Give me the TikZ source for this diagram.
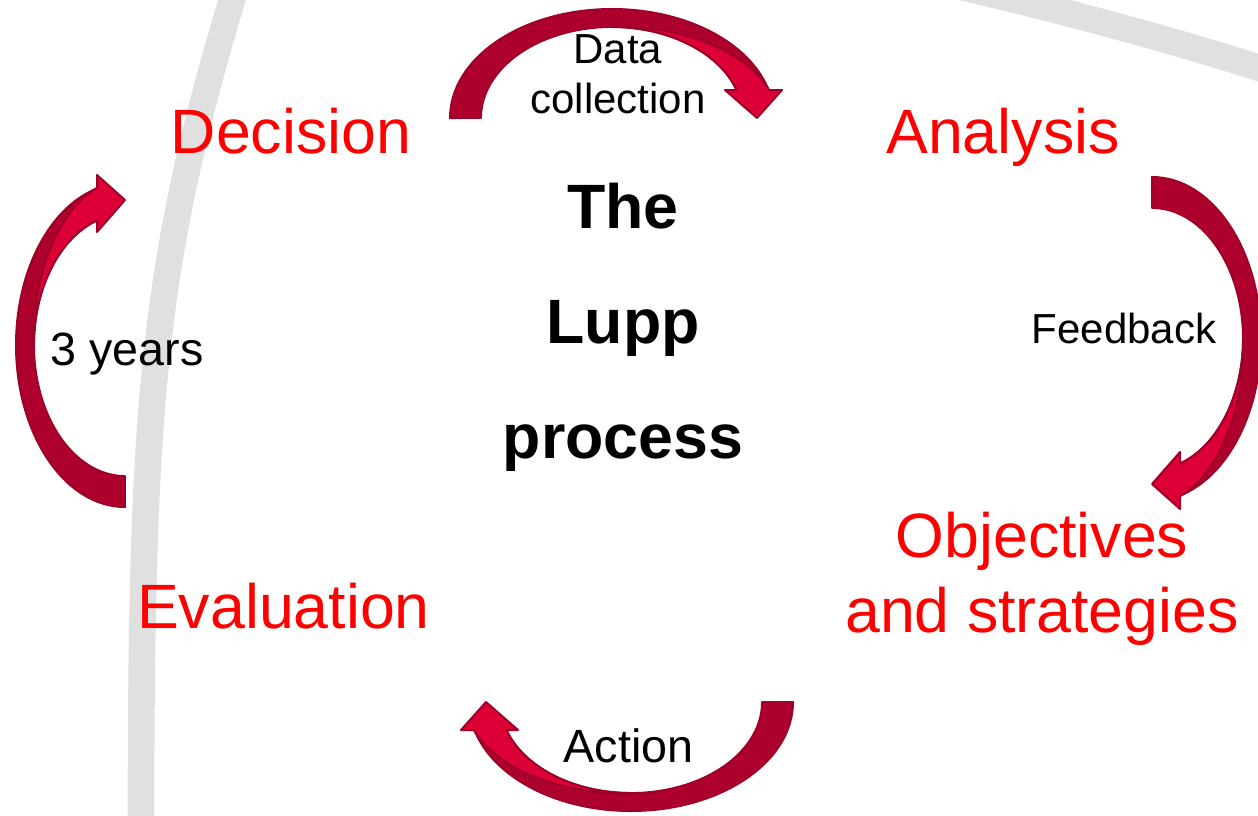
\documentclass[tikz,border=0pt]{standalone}
\usepackage{fontspec}
\setmainfont{Liberation Sans}
\definecolor{ringgray}{HTML}{E0E0E0}
\definecolor{stagered}{HTML}{FF0000}
\definecolor{arrowdark}{HTML}{AE002D}
\definecolor{arrowlight}{HTML}{DC0037}
\definecolor{arrowline}{HTML}{9E0027}
\tikzset{
  ring/.style={draw=ringgray, line width=20pt},
  stage/.style={text=stagered, font=\fontsize{47}{56.25}\selectfont, align=center, inner sep=0pt, anchor=base},
  title/.style={font=\bfseries\fontsize{47}{86}\selectfont, align=center, inner sep=0pt, anchor=base},
  flow/.style={font=\fontsize{31.5}{37.5}\selectfont, align=center, inner sep=0pt, anchor=base},
  backband/.style={fill=arrowdark, draw=arrowline, line width=1.5pt, line join=round},
  frontband/.style={fill=arrowlight, draw=arrowline, line width=1.5pt, line join=round},
  pics/curvedarrow/.style={code={
    %back of the ribbon
    \path[backband] (-162,0) arc[start angle=180, end angle=14.9, x radius=162, y radius=109] -- (124.6,28) arc[start angle=17.9, end angle=180, x radius=131, y radius=91] -- cycle;
    %front of the ribbon with the head
    \path[frontband] (0,92) arc[start angle=90, end angle=17.72, x radius=165, y radius=92] -- (170,28) -- (145,0) -- (113,28) -- (124.6,28) arc[start angle=17.9, end angle=90, x radius=131, y radius=91] -- cycle;
  }}
}
\begin{document}
\begin{tikzpicture}[x=0.75pt,y=0.75pt,yscale=-1,xscale=1]
\useasboundingbox (0,0) rectangle (1258,815);
\clip (0,0) rectangle (1258,815);

%Shape: Arc [left ring]
\draw [ring] (238,-20) .. controls (152,262) and (141,400) .. (141,830) ;
%Shape: Arc [right ring]
\draw [ring] (940,-18) .. controls (1060,9.6) and (1180,41.4) .. (1300,81) ;

%Curved Arrows
\coordinate (dcarrow) at (612,118);
\coordinate (fbarrow) at (1152,339);
\coordinate (acarrow) at (631,702);
\coordinate (yrarrow) at (125,345);
\pic at (dcarrow) {curvedarrow};
\pic [rotate=-90] at (fbarrow) {curvedarrow};
\pic [rotate=180] at (acarrow) {curvedarrow};
\pic [rotate=90] at (yrarrow) {curvedarrow};

% Text Node
\node [stage] (decision) at (291,153) {Decision};
% Text Node
\node [stage] (analysis) at (1003,153) {Analysis};
% Text Node
\node [stage] (objectives) at (1042,632) {Objectives\\and strategies};
% Text Node
\node [stage] (evaluation) at (283.5,628) {Evaluation};
% Text Node
\node [title] (lupp) at (623,458) {The\\Lupp\\process};
% Text Node
\node [flow] (datacollection) at (618,113) {Data\\collection};
% Text Node
\node [flow] (feedback) at (1124,343) {Feedback};
% Text Node
\node [flow, font=\fontsize{35}{42}\selectfont] (years) at (127,365) {3 years};
% Text Node
\node [flow, font=\fontsize{35}{42}\selectfont] (action) at (628.5,762) {Action};
\end{tikzpicture}
\end{document}
